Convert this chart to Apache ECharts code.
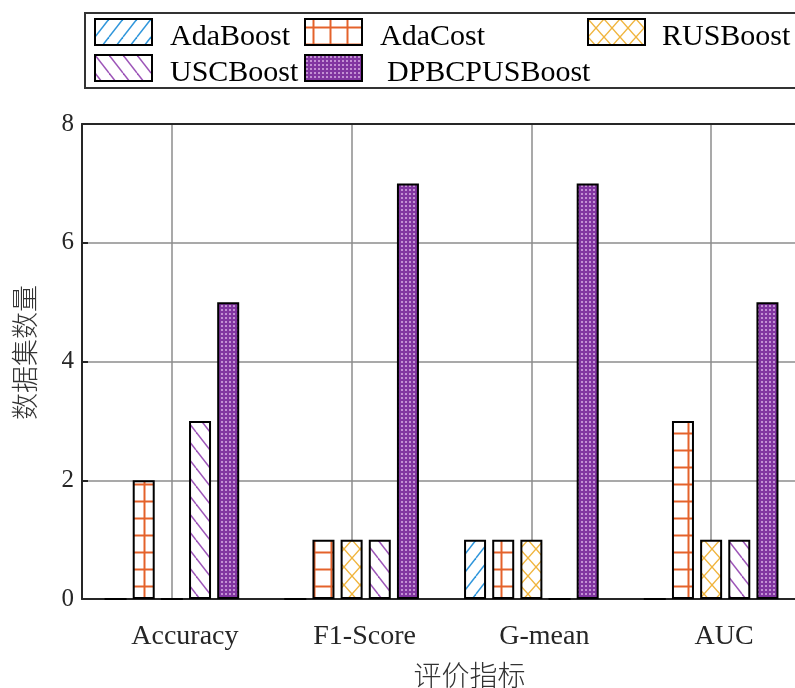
<!DOCTYPE html>
<html>
<head>
<meta charset="utf-8">
<script src="https://cdn.jsdelivr.net/npm/echarts@6/dist/echarts.min.js"></script>
<style>
html,body{margin:0;padding:0;background:#fff;}
#chart{width:795px;height:688px;}
</style>
</head>
<body>
<div id="chart"></div>
<script>
const categories = ['Accuracy', 'F1-Score', 'G-mean', 'AUC'];
const seriesNames = ['AdaBoost', 'AdaCost', 'RUSBoost', 'USCBoost', 'DPBCPUSBoost'];
const adaBoost = [0, 0, 1, 0];
const adaCost = [2, 1, 1, 3];
const rusBoost = [0, 1, 1, 1];
const uscBoost = [3, 1, 0, 1];
const dpbcpusBoost = [5, 7, 7, 5];
const yMin = 0, yMax = 8, yInterval = 2;
const xAxisName = '评价指标';
const yAxisName = '数据集数量';

function tile(w, h, bg, draw) {
  const c = document.createElement('canvas');
  c.width = w; c.height = h;
  const ctx = c.getContext('2d');
  ctx.fillStyle = bg; ctx.fillRect(0, 0, w, h);
  draw(ctx, w, h);
  return { image: c, repeat: 'repeat' };
}
const patAdaBoost = tile(14, 18, '#fff', (ctx, w, h) => {
  ctx.strokeStyle = '#2f96db'; ctx.lineWidth = 1.5;
  for (let k = -1; k <= 1; k++) { ctx.beginPath(); ctx.moveTo(k * w, h); ctx.lineTo(k * w + w, 0); ctx.stroke(); }
});
const patUSC = tile(14, 18, '#fff', (ctx, w, h) => {
  ctx.strokeStyle = '#9d55b8'; ctx.lineWidth = 1.5;
  for (let k = -1; k <= 1; k++) { ctx.beginPath(); ctx.moveTo(k * w, 0); ctx.lineTo(k * w + w, h); ctx.stroke(); }
});
const patAdaCost = tile(17, 17, '#fff', (ctx, w, h) => {
  ctx.strokeStyle = '#e4622b'; ctx.lineWidth = 2;
  ctx.beginPath(); ctx.moveTo(0, 8.5); ctx.lineTo(w, 8.5); ctx.stroke();
  ctx.beginPath(); ctx.moveTo(8.5, 0); ctx.lineTo(8.5, h); ctx.stroke();
});
const patRUS = tile(16, 18, '#fff', (ctx, w, h) => {
  ctx.strokeStyle = '#f0b43c'; ctx.lineWidth = 1.4;
  for (let k = -1; k <= 1; k++) {
    ctx.beginPath(); ctx.moveTo(k * w, 0); ctx.lineTo(k * w + w, h); ctx.stroke();
    ctx.beginPath(); ctx.moveTo(k * w, h); ctx.lineTo(k * w + w, 0); ctx.stroke();
  }
});
const patDP = tile(4, 4, '#8135a0', (ctx) => {
  ctx.fillStyle = 'rgba(240,205,245,0.6)'; ctx.fillRect(1, 1, 2, 2);
});

const dataSets = [adaBoost, adaCost, rusBoost, uscBoost, dpbcpusBoost];
const patterns = [patAdaBoost, patAdaCost, patRUS, patUSC, patDP];

const serif = 'Liberation Serif, Times New Roman, serif';
const cjk = 'Noto Sans CJK SC';
const axisColor = '#262626';
const gridColor = '#8c8c8c';

const series = seriesNames.map((n, i) => ({
  name: n, type: 'bar', data: dataSets[i], barWidth: 22, barGap: '28%',
  itemStyle: { color: patterns[i], borderColor: '#000', borderWidth: 2 },
  emphasis: { disabled: true }, z: 3
}));

const legendPos = [[94, 18], [304, 18], [587, 18], [94, 54], [304, 54]];
const legendPad = [13, 13, 12, 13, 20];
const legends = seriesNames.map((n, i) => ({
  data: [n], left: legendPos[i][0], top: legendPos[i][1], padding: 0,
  icon: 'rect', itemWidth: 57, itemHeight: 26, selectedMode: false,
  itemStyle: { borderColor: '#000', borderWidth: 2 },
  formatter: '{t|{name}}',
  textStyle: {
    fontSize: 30, fontFamily: serif, color: '#000',
    rich: { t: { fontSize: 30, fontFamily: serif, color: '#000', padding: [10, 0, 0, legendPad[i]] } }
  }
}));

const chart = echarts.init(document.getElementById('chart'), null, { renderer: 'canvas' });
chart.setOption({
  backgroundColor: '#fff',
  animation: false,
  graphic: [{
    type: 'rect', z: -1,
    shape: { x: 85, y: 13, width: 720, height: 75 },
    style: { fill: 'none', stroke: '#333', lineWidth: 2 }
  }],
  legend: legends,
  grid: { left: 82, top: 124, width: 719, height: 475, outerBoundsMode: 'none', containLabel: false },
  xAxis: [{
    type: 'category', data: categories, position: 'bottom', boundaryGap: true,
    axisLine: { lineStyle: { color: axisColor, width: 2 } },
    axisTick: { inside: true, alignWithLabel: true, length: 6, lineStyle: { color: axisColor, width: 2 } },
    axisLabel: { fontSize: 28, fontFamily: serif, color: axisColor, margin: 24, padding: [0, 0, 0, 26] },
    splitLine: { show: false },
    name: xAxisName, nameLocation: 'middle', nameGap: 62,
    nameTextStyle: { fontSize: 28, fontFamily: cjk, fontWeight: 300, color: '#333', padding: [0, 0, 0, 56] }
  }, {
    type: 'category', data: categories, position: 'top', boundaryGap: true,
    axisLine: { lineStyle: { color: axisColor, width: 2 } },
    axisTick: { inside: true, alignWithLabel: true, length: 6, lineStyle: { color: axisColor, width: 2 } },
    axisLabel: { show: false }, splitLine: { show: false }
  }, {
    type: 'category', data: ['', '', '', '', '', '', '', '', ''], position: 'bottom', boundaryGap: false,
    axisLine: { show: false }, axisTick: { show: false }, axisLabel: { show: false },
    splitLine: { show: true, interval: (i) => i % 2 === 1, lineStyle: { color: gridColor, width: 1.5 } }
  }],
  yAxis: {
    type: 'value', min: yMin, max: yMax, interval: yInterval,
    axisLine: { show: true, lineStyle: { color: axisColor, width: 2 } },
    axisTick: { show: true, inside: true, length: 6, lineStyle: { color: axisColor, width: 2 } },
    axisLabel: { fontSize: 25, fontFamily: serif, color: axisColor, margin: 8 },
    splitLine: { show: true, lineStyle: { color: gridColor, width: 1.5 } },
    name: yAxisName, nameLocation: 'middle', nameGap: 44,
    nameTextStyle: { fontSize: 27, fontFamily: cjk, fontWeight: 300, color: '#333', padding: [0, 0, 0, 18] }
  },
  series: series
});
</script>
</body>
</html>
